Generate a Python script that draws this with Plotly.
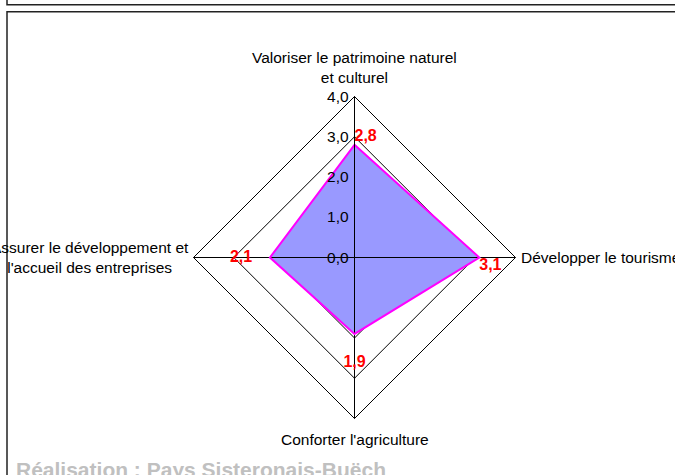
import plotly.graph_objects as go

categories = ["Valoriser le patrimoine naturel<br>et culturel",
              "Développer le tourisme",
              "Conforter l'agriculture",
              "Assurer le développement et<br>l'accueil des entreprises"]
values = [2.8, 3.1, 1.9, 2.1]
value_labels = ["2,8", "3,1", "1,9", "2,1"]
radial_ticks = [0, 1, 2, 3, 4]
radial_ticktext = ["0,0", "1,0", "2,0", "3,0", "4,0"]
credit = "Réalisation : Pays Sisteronais-Buëch"

W, H = 675, 475
cx, cy, R = 354.5, 257.5, 161
FONT = "Liberation Sans, Arial"

fig = go.Figure()
# filled area
fig.add_trace(go.Scatterpolar(
    r=values + [values[0]], theta=categories + [categories[0]],
    mode="lines", fill="toself", fillcolor="#9999FF",
    line=dict(color="rgba(0,0,0,0)", width=0), hoverinfo="skip", showlegend=False))
# spokes drawn over the fill
for c in categories:
    fig.add_trace(go.Scatterpolar(
        r=[radial_ticks[0], radial_ticks[-1]], theta=[c, c], mode="lines",
        line=dict(color="black", width=1), hoverinfo="skip", showlegend=False))
# outline
fig.add_trace(go.Scatterpolar(
    r=values + [values[0]], theta=categories + [categories[0]],
    mode="lines", line=dict(color="#FF00FF", width=2),
    hoverinfo="skip", showlegend=False))
# value labels
prefix = ["", "", "<br>", ""]
suffix = ["", "", "", "\u00a0\u00a0\u00a0\u00a0"]
fig.add_trace(go.Scatterpolar(
    r=values, theta=categories, mode="text",
    text=[p + t + s for p, t, s in zip(prefix, value_labels, suffix)],
    textposition=["top right", "bottom right", "bottom center", "middle left"],
    textfont=dict(family=FONT, size=16, color="#FF0000", weight="bold"),
    hoverinfo="skip", showlegend=False))

def px(x):
    return x / W

def py(y):
    return 1 - y / H

fig.update_layout(
    width=W, height=H, margin=dict(l=0, r=0, t=0, b=0),
    paper_bgcolor="white", plot_bgcolor="white",
    font=dict(family=FONT, size=15.5, color="black"),
    polar=dict(
        domain=dict(x=[px(cx - R), px(cx + R)], y=[py(cy + R), py(cy - R)]),
        bgcolor="white",
        gridshape="linear",
        angularaxis=dict(direction="clockwise", rotation=90,
                         showline=True, linecolor="black", linewidth=1,
                         gridcolor="black", gridwidth=1, ticks="",
                         showticklabels=False),
        radialaxis=dict(range=[0, 4], tickvals=radial_ticks, ticktext=radial_ticktext,
                        angle=90, tickangle=90, side="counterclockwise",
                        showline=True, linecolor="black", linewidth=1,
                        gridcolor="black", gridwidth=1, ticks="",
                        tickfont=dict(family=FONT, size=15.5, color="black")),
    ),
    shapes=[
        dict(type="rect", xref="paper", yref="paper",
             x0=px(7), x1=1.05, y0=py(4.7), y1=1.1,
             line=dict(color="#222", width=1.5)),
        dict(type="rect", xref="paper", yref="paper",
             x0=px(7), x1=1.05, y0=-0.05, y1=py(11.7),
             line=dict(color="#222", width=1.5)),
    ],
    annotations=[
        dict(text=categories[0], x=px(cx), y=py(cy - R - 9),
             xanchor="center", yanchor="bottom"),
        dict(text=categories[1], x=px(cx + R + 3), y=py(cy),
             xanchor="left", yanchor="middle"),
        dict(text=categories[2], x=px(cx), y=py(cy + R + 10),
             xanchor="center", yanchor="top"),
        dict(text=categories[3], x=px(cx - R - 3), y=py(cy),
             xanchor="right", yanchor="middle"),
        dict(text=credit, x=px(14), y=py(469), xanchor="left", yanchor="middle",
             font=dict(family=FONT, size=21, color="#C0C0C0", weight="bold")),
    ],
)
for a in fig.layout.annotations:
    a.xref = "paper"
    a.yref = "paper"
    a.showarrow = False

fig.write_html("out.html", config={"displayModeBar": False},
               post_script="document.body.style.margin='0';")
